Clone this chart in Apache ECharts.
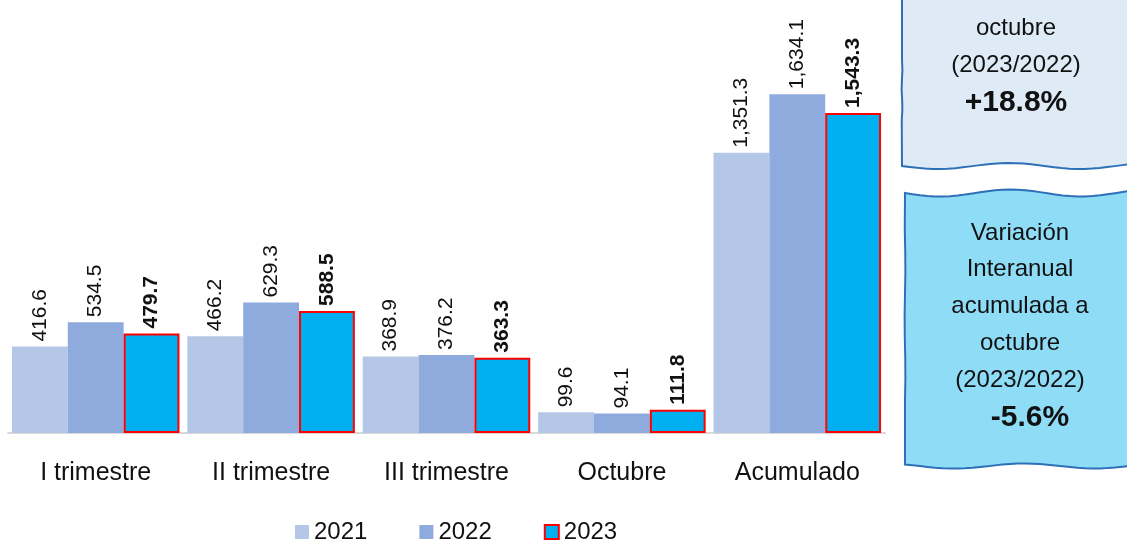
<!DOCTYPE html>
<html><head><meta charset="utf-8">
<script src="https://cdn.jsdelivr.net/npm/echarts@6/dist/echarts.min.js"></script>
<style>html,body{margin:0;padding:0;background:#fff}#c{width:1127px;height:549px}</style>
</head><body><div id="c"></div>
<script>
const categories = ['I trimestre', 'II trimestre', 'III trimestre', 'Octubre', 'Acumulado'];
const seriesNames = ['2021', '2022', '2023'];
const v2021 = [416.6, 466.2, 368.9, 99.6, 1351.3];
const v2022 = [534.5, 629.3, 376.2, 94.1, 1634.1];
const v2023 = [479.7, 588.5, 363.3, 111.8, 1543.3];
const box1Lines = ['Variación', 'Interanual de', 'octubre', '(2023/2022)'];
const box1Value = '+18.8%';
const box2Lines = ['Variación', 'Interanual', 'acumulada a', 'octubre', '(2023/2022)'];
const box2Value = '-5.6%';

const FONT = "'Liberation Sans Narrow', 'Arial Narrow', 'Liberation Sans', Arial, sans-serif";
const fmt = v => v.toLocaleString('en-US', {minimumFractionDigits: 1, maximumFractionDigits: 1});

const colors = ['#B4C7E7', '#8FAADC', '#00B0F0'];
const dataSets = [v2021, v2022, v2023];

const series = dataSets.map((d, i) => ({
  name: seriesNames[i],
  type: 'bar',
  data: d,
  barGap: '0%',
  barCategoryGap: '4.5%',
  itemStyle: i === 2 ? {color: colors[i], borderColor: '#FF0000', borderWidth: 2} : {color: colors[i]},
  label: {
    show: true, position: 'top', rotate: 90, distance: 5,
    align: 'left', verticalAlign: 'middle',
    formatter: p => fmt(p.value),
    fontFamily: FONT, fontSize: 21, color: '#111',
    fontWeight: i === 2 ? 'bold' : 'normal'
  }
}));

// wavy edge helper (decoration only)
function wave(x0, y0, x1, y1, amp, n) {
  const pts = [];
  for (let k = 0; k <= n; k++) {
    const t = k / n;
    const off = amp * Math.sin(t * Math.PI * 3.2);
    const x = x0 + (x1 - x0) * t, y = y0 + (y1 - y0) * t;
    if (x0 === x1) pts.push([x + off * 0.4, y]); else pts.push([x, y + off]);
  }
  return pts;
}
const box1Pts = [[902, -5]].concat(wave(902, 60, 902, 120, 1, 6), wave(902, 166, 1130, 166, 3, 30), [[1130, -5]]);
const box2Pts = wave(905, 193, 1130, 193, 3.5, 30).concat([[1130, 465]], wave(1130, 466, 905, 466, 2.5, 30), wave(905, 400, 905, 230, 1, 8));

const graphics = [];
graphics.push({type: 'polygon', z: 10, shape: {points: box1Pts}, style: {fill: '#DEEBF7', stroke: '#2E70B8', lineWidth: 2}});
graphics.push({type: 'polygon', z: 10, shape: {points: box2Pts}, style: {fill: '#8FDCF6', stroke: '#2E70B8', lineWidth: 2}});
const lh = 37;
box1Lines.forEach((t, k) => {
  graphics.push({type: 'text', z: 11, style: {text: t, x: 1016, y: 28 - (2 - k) * lh, align: 'center', verticalAlign: 'middle', font: '24px ' + FONT, fill: '#111'}});
});
graphics.push({type: 'text', z: 11, style: {text: box1Value, x: 1016, y: 103, align: 'center', verticalAlign: 'middle', font: 'bold 30px ' + FONT, fill: '#111'}});
box2Lines.forEach((t, k) => {
  graphics.push({type: 'text', z: 11, style: {text: t, x: 1020, y: 233 + k * 36.8, align: 'center', verticalAlign: 'middle', font: '24px ' + FONT, fill: '#111'}});
});
graphics.push({type: 'text', z: 11, style: {text: box2Value, x: 1030, y: 418, align: 'center', verticalAlign: 'middle', font: 'bold 30px ' + FONT, fill: '#111'}});

const chart = echarts.init(document.getElementById('c'));
chart.setOption({
  animation: false,
  grid: {left: 8, right: 242, top: 10, bottom: 116},
  legend: {
    data: seriesNames, bottom: 0, left: 290,
    itemWidth: 14, itemHeight: 14, itemGap: 52,
    textStyle: {fontFamily: FONT, fontSize: 24, color: '#111'},
    icon: 'rect'
  },
  xAxis: {
    type: 'category', data: categories,
    axisLine: {lineStyle: {color: '#D9D9D9', width: 2}},
    axisTick: {show: false},
    axisLabel: {margin: 28, fontFamily: FONT, fontSize: 25, color: '#111'}
  },
  yAxis: {type: 'value', min: 0, max: 2040, show: false, splitLine: {show: false}},
  series: series,
  graphic: graphics
});
</script></body></html>
